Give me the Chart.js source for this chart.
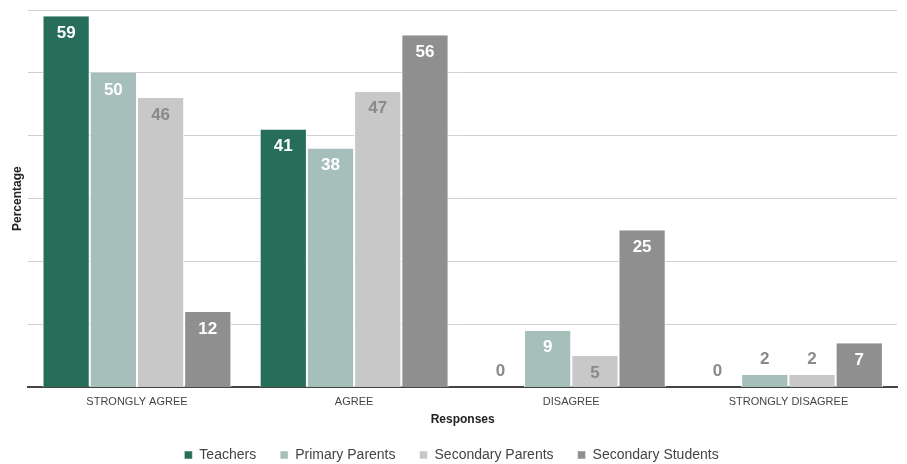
<!DOCTYPE html>
<html>
<head>
<meta charset="utf-8">
<script src="https://cdn.jsdelivr.net/npm/chart.js@4.4.1/dist/chart.umd.min.js"></script>
<style>
  html, body { margin: 0; padding: 0; background: #fff; }
  #wrap { width: 907px; height: 464px; }
</style>
</head>
<body>
<div id="wrap"><canvas id="chart"></canvas></div>
<script>
const categories = ["STRONGLY AGREE", "AGREE", "DISAGREE", "STRONGLY DISAGREE"];
const seriesNames = ["Teachers", "Primary Parents", "Secondary Parents", "Secondary Students"];
const teachers = [59, 41, 0, 0];
const primaryParents = [50, 38, 9, 2];
const secondaryParents = [46, 47, 5, 2];
const secondaryStudents = [12, 56, 25, 7];
const yTicks = [0, 10, 20, 30, 40, 50, 60];

const FONT = "'Liberation Sans', Arial, sans-serif";
const colors = ["#276e5a", "#a7bfba", "#c8c8c8", "#8f8f8f"];
const labelColors = ["#ffffff", "#ffffff", "#8a8a8a", "#ffffff"];

// value labels: inside the top of the bar, or above it when the bar is short
const barLabels = {
  id: "barLabels",
  afterDatasetsDraw(chart) {
    const ctx = chart.ctx;
    ctx.save();
    ctx.font = "bold 17px " + FONT;
    ctx.textAlign = "center";
    ctx.textBaseline = "middle";
    chart.data.datasets.forEach((ds, i) => {
      const meta = chart.getDatasetMeta(i);
      meta.data.forEach((bar, j) => {
        const v = ds.data[j];
        const h = bar.base - bar.y;
        let y, color;
        if (h >= 28) {
          y = bar.y + 17;
          color = ds.labelColor;
        } else {
          y = Math.min(bar.y - 16, bar.base - 15);
          color = "#8a8a8a";
        }
        ctx.fillStyle = color;
        ctx.fillText(String(v), bar.x, y);
      });
    });
    ctx.restore();
  }
};

const values = [teachers, primaryParents, secondaryParents, secondaryStudents];

new Chart(document.getElementById("chart"), {
  type: "bar",
  data: {
    labels: categories,
    datasets: seriesNames.map((name, i) => ({
      label: name,
      data: values[i],
      backgroundColor: colors[i],
      borderColor: "#ffffff",
      borderWidth: { left: 1, right: 1, top: 0, bottom: 0 },
      borderSkipped: false,
      labelColor: labelColors[i],
      barPercentage: 1,
      categoryPercentage: 0.87
    }))
  },
  options: {
    responsive: true,
    maintainAspectRatio: false,
    animation: false,
    layout: { padding: { left: 6, right: 10, top: 10, bottom: -8 } },
    plugins: {
      legend: {
        position: "bottom",
        labels: {
          boxWidth: 8,
          boxHeight: 8,
          padding: 24,
          color: "#444",
          font: { family: FONT, size: 14 }
        }
      },
      tooltip: { enabled: false }
    },
    scales: {
      x: {
        grid: { display: false, drawTicks: false },
        border: { display: true, color: "#444", width: 2 },
        ticks: { color: "#444", padding: 8, font: { family: FONT, size: 11 } },
        title: {
          display: true,
          text: "Responses",
          color: "#222",
          padding: { top: -4, bottom: -3 },
          font: { family: FONT, size: 12, weight: "bold" }
        }
      },
      y: {
        min: 0,
        max: 60,
        afterBuildTicks(scale) {
          scale.ticks = yTicks.map(v => ({ value: v }));
        },
        grid: { color: "#d0d0d0", drawTicks: false },
        border: { display: false },
        ticks: { display: false },
        title: {
          display: true,
          text: "Percentage",
          color: "#222",
          padding: 4,
          font: { family: FONT, size: 12, weight: "bold" }
        }
      }
    }
  },
  plugins: [barLabels]
});
</script>
</body>
</html>
